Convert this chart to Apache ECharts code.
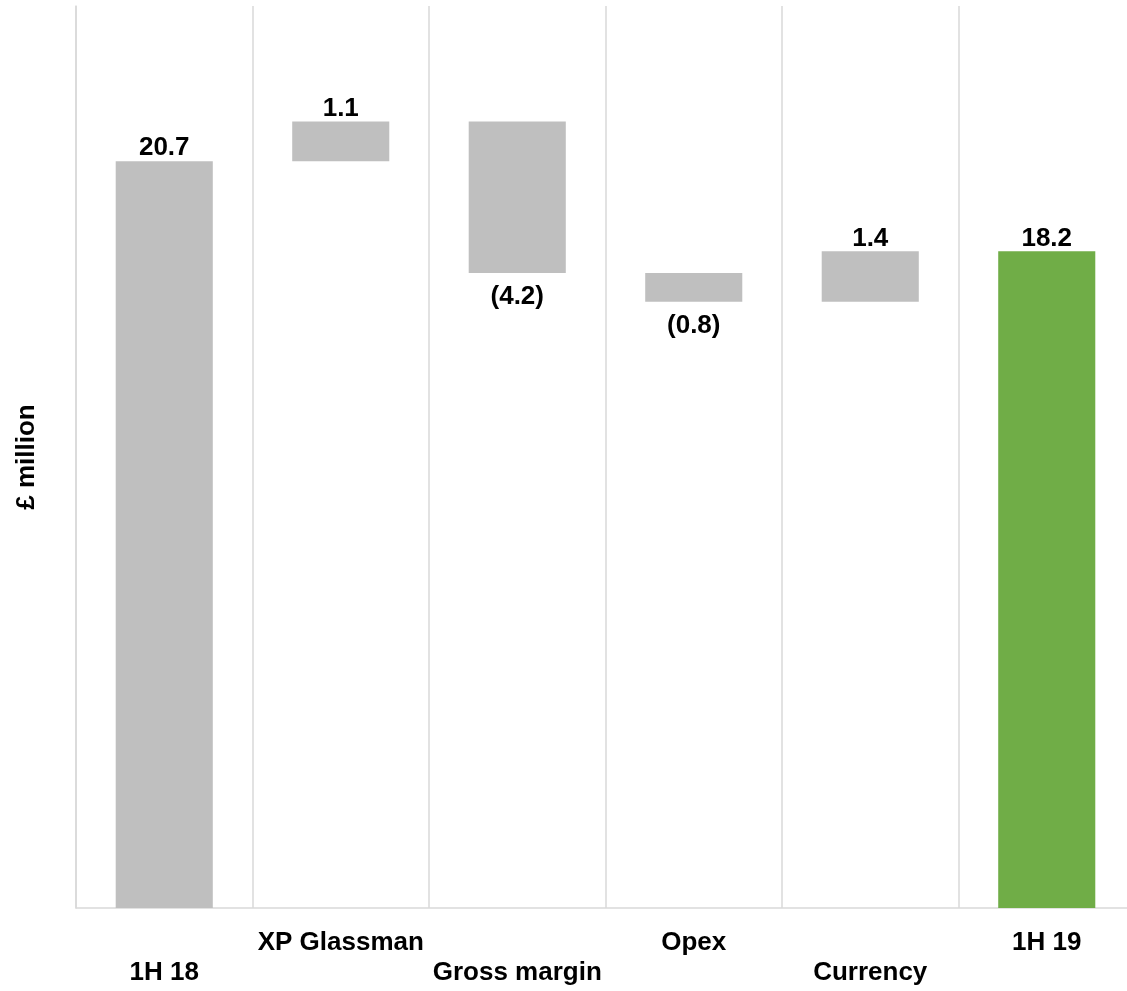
<!DOCTYPE html>
<html>
<head>
<meta charset="utf-8">
<title>Bridge 1H 18 to 1H 19</title>
<script src="https://cdn.jsdelivr.net/npm/echarts@6/dist/echarts.min.js"></script>
<style>
  html, body { margin: 0; padding: 0; background: #ffffff; }
  #chart { width: 1127px; height: 991px; }
</style>
</head>
<body>
<div id="chart"></div>
<script>
// Bridge steps: first and last are totals, the rest are changes
const categories = ['1H 18', 'XP Glassman', 'Gross margin', 'Opex', 'Currency', '1H 19'];
const changes = [20.7, 1.1, -4.2, -0.8, 1.4, 18.2];
const isTotal = [true, false, false, false, false, true];
const valueLabels = ['20.7', '1.1', '(4.2)', '(0.8)', '1.4', '18.2'];

const GREY = '#BFBFBF';
const GREEN = '#70AD47';
const FONT = '"Liberation Sans", Arial, sans-serif';

// Invisible base and visible bar height for each step
const bases = [];
const heights = [];
let running = 0;
changes.forEach((v, i) => {
  if (isTotal[i]) {
    bases.push(0);
    heights.push(v);
    running = v;
  } else if (v >= 0) {
    bases.push(running);
    heights.push(v);
    running += v;
  } else {
    running += v;
    bases.push(running);
    heights.push(-v);
  }
});

const barData = heights.map((h, i) => ({
  value: h,
  itemStyle: { color: i === categories.length - 1 ? GREEN : GREY },
  label: {
    position: changes[i] < 0 ? 'bottom' : 'top',
    distance: changes[i] < 0 ? 11 : 0
  }
}));

const chart = echarts.init(document.getElementById('chart'));
chart.setOption({
  animation: false,
  // the last column runs slightly past the right edge of the page
  grid: { left: 76, right: -8, top: 6, bottom: 83, outerBoundsMode: 'none', containLabel: false },
  xAxis: {
    type: 'category',
    data: categories,
    axisLine: { show: true, lineStyle: { color: '#D9D9D9', width: 1.5 } },
    axisTick: { show: false },
    splitLine: { show: true, interval: 0, lineStyle: { color: '#D9D9D9', width: 1.5 } },
    axisLabel: {
      interval: 0,
      margin: 20,
      color: '#000000',
      fontFamily: FONT,
      fontWeight: 'bold',
      fontSize: 26,
      lineHeight: 30,
      formatter: (name, idx) => (idx % 2 === 0 ? '\n' + name : name)
    }
  },
  yAxis: {
    type: 'value',
    min: 0,
    max: 25,
    name: '£ million',
    nameLocation: 'middle',
    nameGap: 36,
    nameRotate: 90,
    nameTextStyle: { color: '#000000', fontFamily: FONT, fontWeight: 'bold', fontSize: 26 },
    axisLine: { show: true, lineStyle: { color: '#D9D9D9', width: 1.5 } },
    axisTick: { show: false },
    axisLabel: { show: false },
    splitLine: { show: false }
  },
  series: [
    {
      type: 'bar',
      stack: 'bridge',
      data: bases,
      itemStyle: { color: 'transparent' },
      silent: true,
      barCategoryGap: '45%'
    },
    {
      type: 'bar',
      stack: 'bridge',
      data: barData,
      barCategoryGap: '45%',
      label: {
        show: true,
        color: '#000000',
        fontFamily: FONT,
        fontWeight: 'bold',
        fontSize: 26,
        formatter: p => valueLabels[p.dataIndex]
      }
    }
  ]
});
</script>
</body>
</html>
